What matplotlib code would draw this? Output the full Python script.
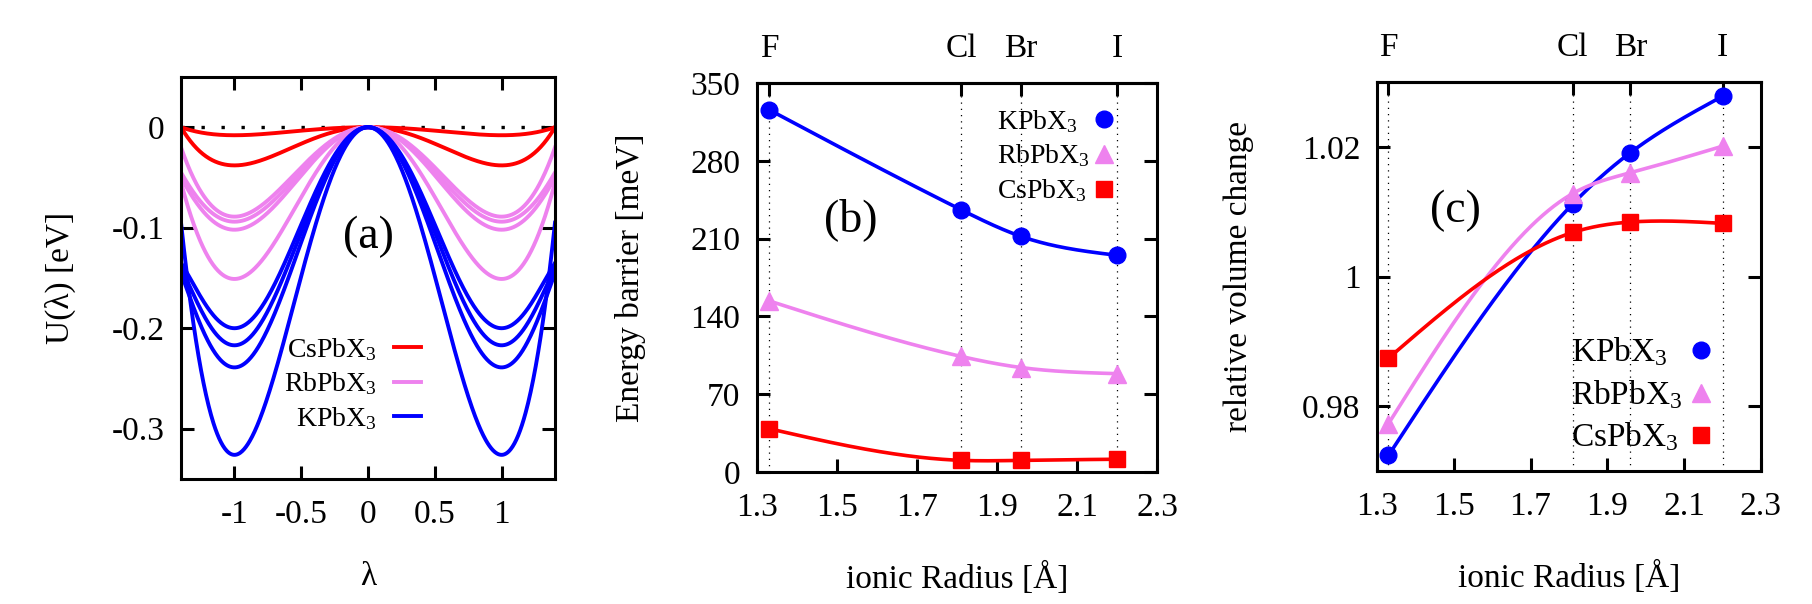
import numpy as np
import matplotlib
matplotlib.use('Agg')
import matplotlib.pyplot as plt
from matplotlib.ticker import FuncFormatter

plt.rcParams['font.family'] = ['Liberation Serif', 'DejaVu Serif']
plt.rcParams['mathtext.fontset'] = 'custom'
plt.rcParams['mathtext.rm'] = 'Liberation Serif'
plt.rcParams['mathtext.it'] = 'Liberation Serif:italic'
plt.rcParams['axes.unicode_minus'] = False

RED = '#ff0000'
VIOLET = '#ee82ee'
BLUE = '#0000ff'

# panel (a): well depth at lambda=+-1 and value at the plot edge (lambda=+-1.4)
lam_edge = 1.4
cs_depth = [0.008, 0.038]
cs_edge = [0.0, 0.0]
rb_depth = [0.089, 0.094, 0.102, 0.151]
rb_edge = [-0.02, -0.045, -0.05, -0.055]
k_depth = [0.200, 0.217, 0.239, 0.326]
k_edge = [-0.135, -0.14, -0.145, -0.095]

# panels (b) and (c)
halides = ['F', 'Cl', 'Br', 'I']
radii = [1.33, 1.81, 1.96, 2.20]
barrier_k = [326, 236, 212, 195]
barrier_rb = [154, 104, 94, 88.5]
barrier_cs = [39, 10.5, 10.5, 11.5]
vol_k = [0.9724, 1.0112, 1.0191, 1.0278]
vol_rb = [0.9773, 1.0128, 1.0160, 1.0201]
vol_cs = [0.9874, 1.0068, 1.0084, 1.0082]

FS = 24


def double_well(lam, depth, edge):
    # even polynomial (l^2, l^4, l^6) through U(0)=0, U(1)=-depth (flat), U(lam_edge)=edge
    le2 = lam_edge ** 2
    c = (edge - depth * (le2 ** 2 - 2 * le2)) / (le2 * (le2 - 1) ** 2)
    a = c - 2 * depth
    b = depth - 2 * c
    return a * lam ** 2 + b * lam ** 4 + c * lam ** 6


def spline(x, y, xs):
    # natural cubic spline, like gnuplot "smooth csplines"
    x = np.asarray(x, float)
    y = np.asarray(y, float)
    n = len(x)
    h = np.diff(x)
    A = np.zeros((n, n))
    r = np.zeros(n)
    A[0, 0] = A[-1, -1] = 1
    for i in range(1, n - 1):
        A[i, i - 1] = h[i - 1]
        A[i, i] = 2 * (h[i - 1] + h[i])
        A[i, i + 1] = h[i]
        r[i] = 3 * ((y[i + 1] - y[i]) / h[i] - (y[i] - y[i - 1]) / h[i - 1])
    c = np.linalg.solve(A, r)
    b = (y[1:] - y[:-1]) / h - h * (2 * c[:-1] + c[1:]) / 3
    d = (c[1:] - c[:-1]) / (3 * h)
    idx = np.clip(np.searchsorted(x, xs) - 1, 0, n - 2)
    dx = xs - x[idx]
    return y[idx] + b[idx] * dx + c[idx] * dx ** 2 + d[idx] * dx ** 3


fmt = FuncFormatter(lambda v, p: '%g' % v)


def style(ax):
    for s in ax.spines.values():
        s.set_linewidth(2.2)
    ax.tick_params(direction='in', length=9.5, width=2.2, labelsize=FS)
    ax.tick_params(axis='x', pad=15)
    ax.tick_params(axis='y', pad=12, right=True)
    ax.xaxis.set_major_formatter(fmt)
    ax.yaxis.set_major_formatter(fmt)


def labels(ax, xl, yl, xpos, ypos):
    ax.set_xlabel(xl, fontsize=FS, va='center')
    ax.set_ylabel(yl, fontsize=FS, va='center')
    ax.xaxis.set_label_coords(0.5, xpos)
    ax.yaxis.set_label_coords(ypos, 0.5)


fig = plt.figure(figsize=(18.12, 6.04), dpi=100)

# ---------------- (a)
axA = fig.add_axes([0.0999, 0.2070, 0.2064, 0.6656])
style(axA)
axA.tick_params(top=True)
lam = np.linspace(-lam_edge, lam_edge, 600)
axA.axhline(0, color='black', lw=2.4, ls=(0, (1, 5)), zorder=1)
for fam, depths, edges, col in [('CsPbX$_3$', cs_depth, cs_edge, RED),
                                ('RbPbX$_3$', rb_depth, rb_edge, VIOLET),
                                ('KPbX$_3$', k_depth, k_edge, BLUE)]:
    for i, (E, e) in enumerate(zip(depths, edges)):
        axA.plot(lam, double_well(lam, E, e), color=col, lw=2.8,
                 label=fam if i == 0 else None, zorder=2)
axA.set_xlim(-1.4, 1.4)
axA.set_ylim(-0.35, 0.05)
axA.set_xticks([-1, -0.5, 0, 0.5, 1])
axA.set_yticks([0, -0.1, -0.2, -0.3])
axA.text(0, -0.109, '(a)', fontsize=33, ha='center', va='center')
axA.legend(loc='upper right', bbox_to_anchor=(0.6425, 0.356), frameon=False,
           markerfirst=False, fontsize=20, handlelength=1.0, handletextpad=0.6,
           labelspacing=0.28, borderpad=0, borderaxespad=0)
labels(axA, 'λ', 'U(λ) [eV]', -0.244, -0.3235)

series = [('KPbX$_3$', BLUE, 'o', 12),
          ('RbPbX$_3$', VIOLET, '^', 13),
          ('CsPbX$_3$', RED, 's', 11.5)]
xs = np.linspace(radii[0], radii[-1], 300)


def panel(ax, ys, leg_x, leg_mx, leg_y, leg_fs):
    style(ax)
    ax.tick_params(top=False)
    for r in radii:
        ax.axvline(r, color='black', lw=0.9, ls=(0, (1, 4)), zorder=0.5)
    for (name, col, mk, ms), y in zip(series, ys):
        ax.plot(xs, spline(radii, y, xs), color=col, lw=2.6, zorder=2)
        ax.plot(radii, y, ls='none', marker=mk, ms=ms, color=col, zorder=3)
    ax.set_xlim(1.3, 2.3)
    ax.set_xticks([1.3, 1.5, 1.7, 1.9, 2.1, 2.3])
    sec = ax.secondary_xaxis('top')
    sec.set_xticks(radii, labels=halides)
    sec.tick_params(direction='in', length=9.5, width=2.2, labelsize=FS, pad=14)
    sec.spines['top'].set_linewidth(2.2)
    # legend: text left aligned, symbol in a column on the right
    bh = ax.get_position().height * fig.get_figheight() * 72
    off = 0.33 * leg_fs / bh
    for (name, col, mk, ms), yy in zip(series, leg_y):
        ax.text(leg_x, yy - off, name, transform=ax.transAxes, fontsize=leg_fs,
                ha='left', va='baseline')
        ax.plot([leg_mx], [yy], transform=ax.transAxes, ls='none', marker=mk,
                ms=ms, color=col, clip_on=False)


# ---------------- (b)
axB = fig.add_axes([0.4178, 0.2185, 0.2208, 0.6440])
panel(axB, [barrier_k, barrier_rb, barrier_cs], 0.6, 0.8665,
      [0.9064, 0.8175, 0.7283], 20)
axB.set_ylim(0, 350)
axB.set_yticks([0, 70, 140, 210, 280, 350])
axB.text(1.533, 227, '(b)', fontsize=33, ha='center', va='center')
labels(axB, 'ionic Radius [Å]', 'Energy barrier [meV]', -0.2725, -0.3175)

# ---------------- (c)
axC = fig.add_axes([0.7599, 0.2202, 0.2119, 0.6440])
panel(axC, [vol_k, vol_rb, vol_cs], 0.505, 0.8432,
      [0.3098, 0.2005, 0.0925], 24)
axC.set_ylim(0.97, 1.03)
axC.set_yticks([0.98, 1.0, 1.02])
axC.text(1.505, 1.0102, '(c)', fontsize=33, ha='center', va='center')
labels(axC, 'ionic Radius [Å]', 'relative volume change', -0.275, -0.359)

fig.savefig('out.png', dpi=100)
